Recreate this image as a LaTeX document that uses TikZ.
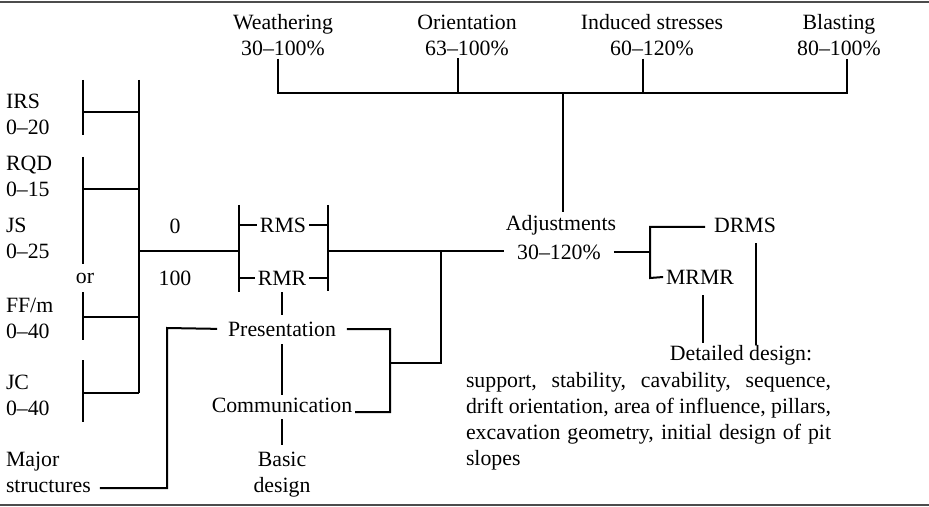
\documentclass[tikz,border=0pt]{standalone}
\usepackage{fontspec}
\setmainfont{Liberation Serif}
\usetikzlibrary{positioning}

\begin{document}
\begin{tikzpicture}[x=0.5pt, y=-0.5pt, line width=1pt,
    font=\fontsize{10.9}{13}\selectfont,
    every node/.style={inner sep=1pt},
    lbl/.style={align=left, anchor=west},
    twoline/.style={align=center},
    rule/.style={line width=1.2pt, black!70}]
  \useasboundingbox (0,0) rectangle (929,507);
  \draw[rule] (0,2) -- (929,2);
  \draw[rule] (0,505) -- (929,505);

  %% adjustment factors
  \node[twoline] (wea) at (283,35) {Weathering\\30--100\%};
  \node[twoline] (ori) at (467,35) {Orientation\\63--100\%};
  \node[twoline] (ind) at (652,35) {Induced stresses\\60--120\%};
  \node[twoline] (bla) at (839,35) {Blasting\\80--100\%};
  \coordinate (bw) at (278,93);
  \coordinate (bo) at (458,93);
  \coordinate (bi) at (643,93);
  \coordinate (bb) at (847,93);
  \coordinate (ba) at (563,93);
  \draw (wea.south -| bw) -- (bw) -- (bb) -- (bb |- bla.south);
  \draw (ori.south -| bo) -- (bo);
  \draw (ind.south -| bi) -- (bi);

  \node (adjp) at (559,252) {30--120\%};
  \node (adj) at (561,225) {Adjustments};
  \draw (ba) -- (ba |- adj.north);

  %% input parameters
  \node[lbl] (irs) at (3,114) {IRS\\0--20};
  \node[lbl] (rqd) at (3,176) {RQD\\0--15};
  \node[lbl] (js) at (3,238) {JS\\0--25};
  \node[lbl] (ff) at (3,318) {FF/m\\0--40};
  \node[lbl] (jc) at (3,395) {JC\\0--40};
  \node[lbl] (maj) at (3,472) {Major\\structures};
  \node[inner sep=4pt] (or) at (85,278) {or};

  \coordinate (s1t) at (83,80);  \coordinate (s1m) at (83,112); \coordinate (s1b) at (83,135);
  \coordinate (s2t) at (83,157); \coordinate (s2m) at (83,189);
  \coordinate (s2n) at (83,317); \coordinate (s2b) at (83,340);
  \coordinate (s3t) at (83,360); \coordinate (s3m) at (83,393); \coordinate (s3b) at (83,422);
  \coordinate (spt) at (139,80); \coordinate (spb) at (139,393);
  \coordinate (spj) at (139,251);
  \draw (s1t) -- (s1b);
  \draw (s2t) -- (s2t |- or.north);
  \draw (s2b |- or.south) -- (s2b);
  \draw (s3t) -- (s3b);
  \draw (spt) -- (spb);
  \draw (s1m) -- (s1m -| spt);
  \draw (s2m) -- (s2m -| spt);
  \draw (s2n) -- (s2n -| spt);
  \draw (s3m) -- (spb);

  %% rock mass rating
  \node (zero) at (175,226) {0};
  \node (hund) at (175,278) {100};
  \node (rms) at (283,225) {RMS};
  \node (rmr) at (282,278) {RMR};
  \coordinate (rlt) at (239,205); \coordinate (rlb) at (239,292);
  \coordinate (rrt) at (328,205); \coordinate (rrb) at (328,291);
  \coordinate (rrj) at (328,251);
  \draw (spj) -- (spj -| rlt);
  \draw (rlt) -- (rlb);
  \draw (rrt) -- (rrb);
  \draw (rms.west -| rlt) -- (rms.west);
  \draw (rmr.west -| rlt) -- (rmr.west);
  \draw (rms.east) -- (rms.east -| rrt);
  \draw (rmr.east) -- (rmr.east -| rrt);
  \draw[shorten >=5pt] (rrj) -- (rrj -| adjp.west);

  %% basic design
  \node (pres) at (282,329) {Presentation};
  \node (comm) at (282,405) {Communication};
  \node[twoline, below=17pt of comm] (basic) {Basic\\design};
  \coordinate (pj) at (441,251); \coordinate (pk) at (441,363);
  \coordinate (pct) at (390,330); \coordinate (pcb) at (390,412);
  \coordinate (mj) at (167,328); \coordinate (mb) at (167,488);
  \draw[shorten <=2pt, shorten >=2pt] (rmr.south) -- (pres.north);
  \draw[shorten <=2.5pt] (pres.south) -- (comm.north);
  \draw[shorten <=2pt, shorten >=2pt] (comm.south) -- (basic.north);
  \draw[shorten <=4pt] (pres.east) -- (pres.east -| pct) -- (pcb) -- (comm.base east);
  \draw (pj) -- (pk) -- (pk -| pct);
  \draw[shorten <=4pt, shorten >=3pt] (pres.west) -- (mj) -- (mb) -- (mb -| maj.east);

  %% detailed design
  \node (drms) at (745,225) {DRMS};
  \node (mrmr) at (700,277) {MRMR};
  \coordinate (ajt) at (650,227); \coordinate (ajb) at (650,278);
  \coordinate (dd) at (756,345); \coordinate (md) at (703,343);
  \draw[shorten <=5pt] (adjp.east) -- (adjp.east -| ajt);
  \draw[shorten >=3pt] (mrmr.west) -- (ajb) -- (ajt) -- (ajt -| drms.west);
  \draw[shorten <=4pt] (dd |- drms.south) -- (dd);
  \draw[shorten <=4pt] (md |- mrmr.south) -- (md);
  \node (det) at (741,355) {Detailed design:};
  \node[anchor=north west, inner sep=0pt, text width=182.5pt, align=justify] (txt) at (465,371)
    {support, stability, cavability, sequence,\linebreak drift orientation, area of influence, pillars,\linebreak excavation geometry, initial design of pit\linebreak slopes};
\end{tikzpicture}
\end{document}
